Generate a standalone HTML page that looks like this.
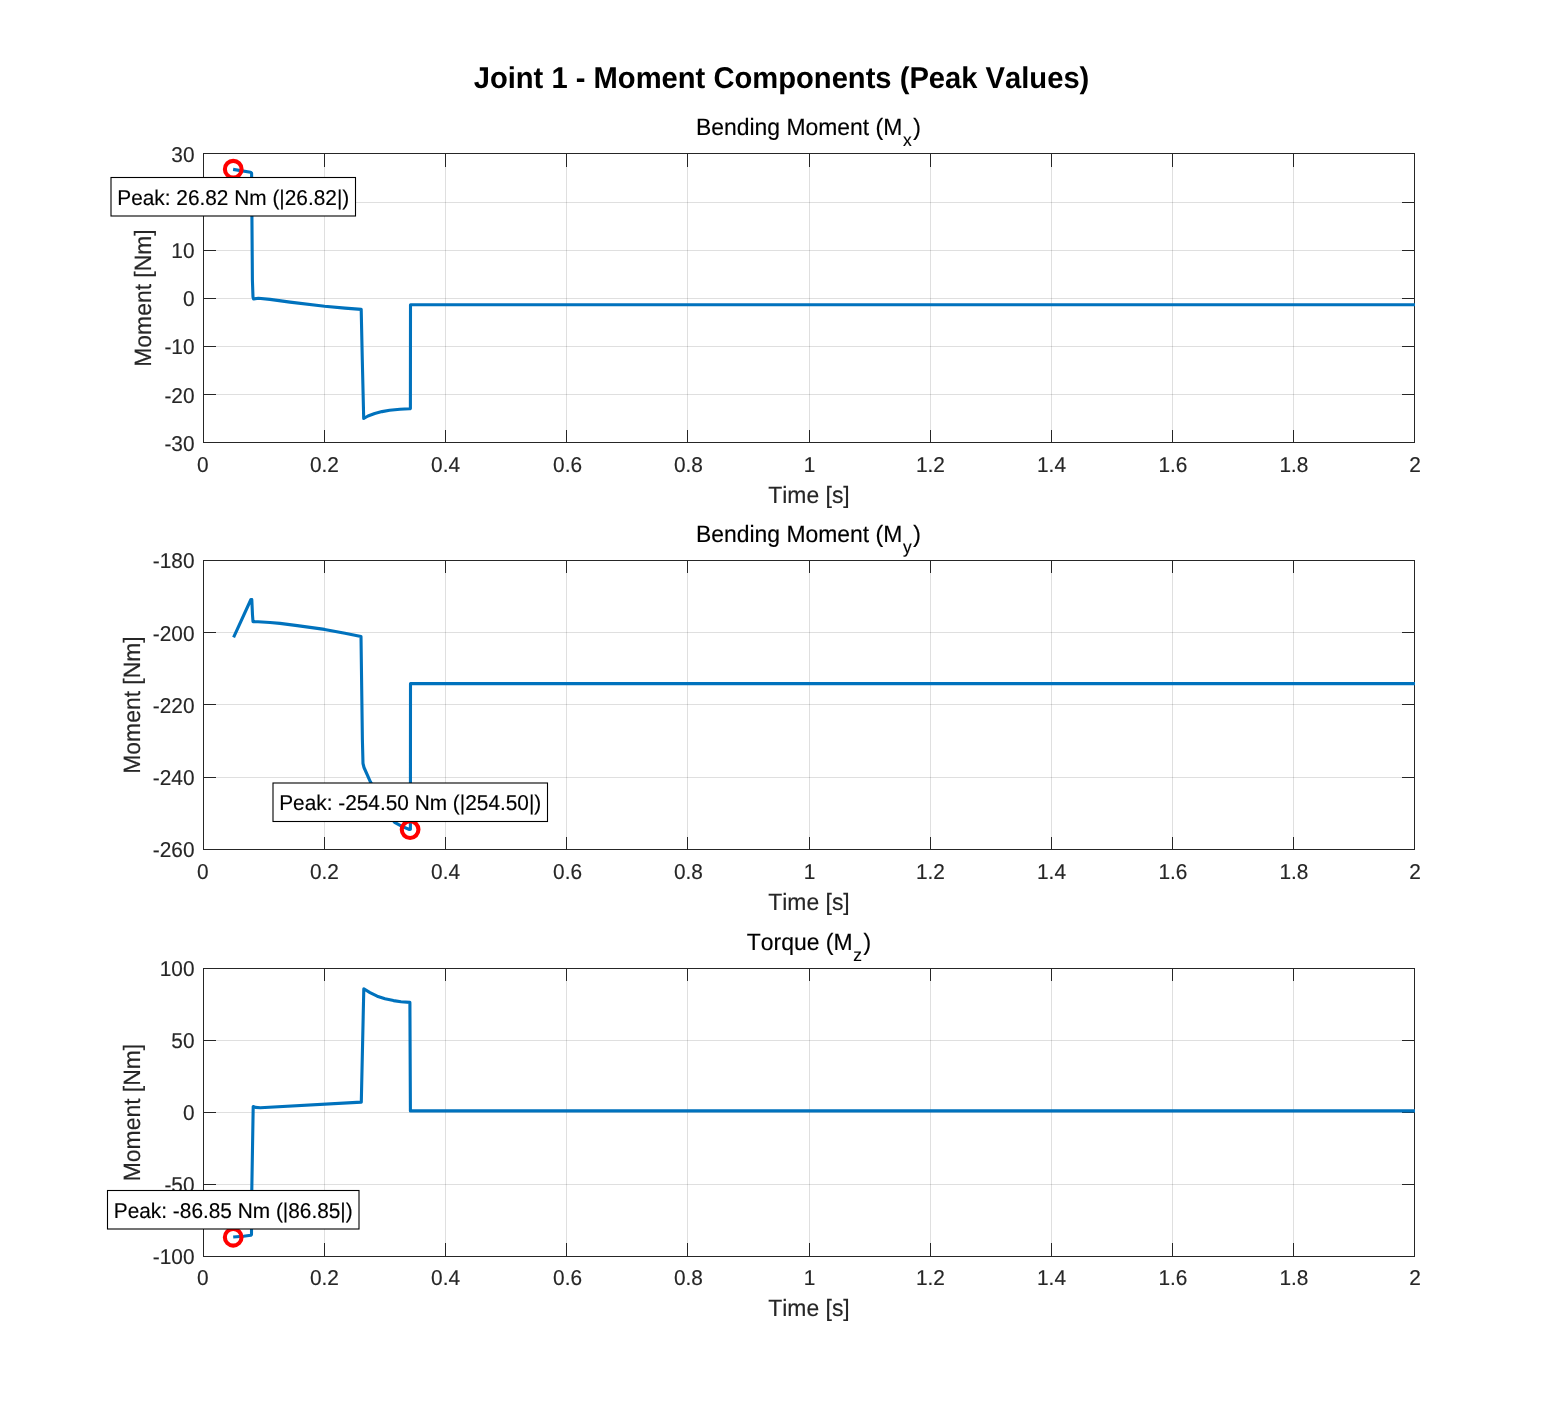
<!DOCTYPE html>
<html lang="en"><head><meta charset="utf-8">
<title>Joint 1 - Moment Components (Peak Values)</title>
<style>
html,body{margin:0;padding:0;background:#fff;}
body{width:1563px;height:1406px;overflow:hidden;}
svg{display:block;}
text{font-family:"Liberation Sans", sans-serif;white-space:pre;font-kerning:none;font-variant-ligatures:none;text-rendering:geometricPrecision;}
.grid{fill:none;stroke:#262626;stroke-opacity:0.15;stroke-width:1;shape-rendering:crispEdges;}
.box{fill:none;stroke:#262626;stroke-width:1;shape-rendering:crispEdges;}
.tick{fill:none;stroke:#262626;stroke-width:1;shape-rendering:crispEdges;}
.curve{fill:none;stroke:#0072bd;stroke-width:3.1;stroke-linejoin:round;stroke-linecap:butt;}
.peak{fill:none;stroke:#ff0000;stroke-width:4.1;}
.tl{font-size:20.83px;fill:#262626;stroke:#262626;stroke-width:0.15;}
.al{font-size:22.92px;fill:#262626;stroke:#262626;stroke-width:0.15;}
.tt{font-size:22.92px;fill:#000;stroke:#000;stroke-width:0.15;}
.ts{font-size:17.4px;fill:#000;stroke:#000;stroke-width:0.15;}
.st{font-size:29.17px;font-weight:bold;fill:#000;}
.ab{fill:#fff;stroke:#000;stroke-width:1.1;}
.at{font-size:20.83px;fill:#000;stroke:#000;stroke-width:0.15;}
</style></head><body>
<svg width="1563" height="1406" viewBox="0 0 1563 1406" role="img" aria-label="Joint 1 - Moment Components (Peak Values)">
<rect x="0" y="0" width="1563" height="1406" fill="#ffffff"/>
<text class="st" transform="translate(781.5 88) scale(1 1.03)" text-anchor="middle">Joint 1 - Moment Components (Peak Values)</text>
<g id="axes1">
<path class="grid" d="M324.5 153.5V442.5M445.5 153.5V442.5M566.5 153.5V442.5M687.5 153.5V442.5M809.5 153.5V442.5M930.5 153.5V442.5M1051.5 153.5V442.5M1172.5 153.5V442.5M1293.5 153.5V442.5"/>
<path class="grid" d="M203.5 202.5H1414.5M203.5 250.5H1414.5M203.5 298.5H1414.5M203.5 346.5H1414.5M203.5 394.5H1414.5"/>
<path class="tick" d="M203.5 442.5v-12.1M203.5 153.5v13.1M324.5 442.5v-12.1M324.5 153.5v13.1M445.5 442.5v-12.1M445.5 153.5v13.1M566.5 442.5v-12.1M566.5 153.5v13.1M687.5 442.5v-12.1M687.5 153.5v13.1M809.5 442.5v-12.1M809.5 153.5v13.1M930.5 442.5v-12.1M930.5 153.5v13.1M1051.5 442.5v-12.1M1051.5 153.5v13.1M1172.5 442.5v-12.1M1172.5 153.5v13.1M1293.5 442.5v-12.1M1293.5 153.5v13.1M1414.5 442.5v-12.1M1414.5 153.5v13.1M203.5 153.5h12.1M1414.5 153.5h-12.1M203.5 202.5h12.1M1414.5 202.5h-12.1M203.5 250.5h12.1M1414.5 250.5h-12.1M203.5 298.5h12.1M1414.5 298.5h-12.1M203.5 346.5h12.1M1414.5 346.5h-12.1M203.5 394.5h12.1M1414.5 394.5h-12.1M203.5 442.5h12.1M1414.5 442.5h-12.1"/>
<rect class="box" x="203.5" y="153.5" width="1211" height="289"/>
<path class="curve" d="M233.1 169.4L250.5 172.2L251.6 173.2L252.4 280L253 297L253.6 299L258.4 298.2L270 299.4L290 302.1L324.6 306.2L345 308.1L361.2 309.4L362.3 360L363.7 418.5L368 416L374.7 413.5L382 411.6L389.6 410.3L400 409.3L409.3 408.8L410.4 408.6L410.5 304.8L1415 304.8"/>
<circle class="peak" cx="233.25" cy="169.2" r="8.35"/>
<text class="tl" transform="translate(202.9 472) scale(1 1.03)" text-anchor="middle">0</text>
<text class="tl" transform="translate(324.4 472) scale(1 1.03)" text-anchor="middle">0.2</text>
<text class="tl" transform="translate(445.6 472) scale(1 1.03)" text-anchor="middle">0.4</text>
<text class="tl" transform="translate(567.6 472) scale(1 1.03)" text-anchor="middle">0.6</text>
<text class="tl" transform="translate(688.4 472) scale(1 1.03)" text-anchor="middle">0.8</text>
<text class="tl" transform="translate(809.5 472) scale(1 1.03)" text-anchor="middle">1</text>
<text class="tl" transform="translate(930.4 472) scale(1 1.03)" text-anchor="middle">1.2</text>
<text class="tl" transform="translate(1051.5 472) scale(1 1.03)" text-anchor="middle">1.4</text>
<text class="tl" transform="translate(1172.9 472) scale(1 1.03)" text-anchor="middle">1.6</text>
<text class="tl" transform="translate(1293.9 472) scale(1 1.03)" text-anchor="middle">1.8</text>
<text class="tl" transform="translate(1415 472) scale(1 1.03)" text-anchor="middle">2</text>
<text class="tl" transform="translate(194.5 162) scale(1 1.03)" text-anchor="end">30</text>
<text class="tl" transform="translate(194.5 210) scale(1 1.03)" text-anchor="end">20</text>
<text class="tl" transform="translate(194.5 258) scale(1 1.03)" text-anchor="end">10</text>
<text class="tl" transform="translate(194.5 306) scale(1 1.03)" text-anchor="end">0</text>
<text class="tl" transform="translate(194.5 354) scale(1 1.03)" text-anchor="end">-10</text>
<text class="tl" transform="translate(194.5 403) scale(1 1.03)" text-anchor="end">-20</text>
<text class="tl" transform="translate(194.5 451) scale(1 1.03)" text-anchor="end">-30</text>
<text class="al" transform="translate(809 503) scale(1 1.03)" text-anchor="middle">Time [s]</text>
<text class="al" transform="translate(151 298) rotate(-90) scale(1 1.03)" text-anchor="middle">Moment [Nm]</text>
<text class="tt" transform="translate(696 135) scale(1 1.03)">Bending Moment (M<tspan class="ts" dx="0.7" dy="10.5">x</tspan><tspan dx="1.6" dy="-10.5">)</tspan></text>
<rect class="ab" x="111" y="177.5" width="244.5" height="38.5"/>
<text class="at" transform="translate(233.25 205) scale(1 1.03)" text-anchor="middle">Peak: 26.82 Nm (|26.82|)</text>
</g>
<g id="axes2">
<path class="grid" d="M324.5 560.5V849.5M445.5 560.5V849.5M566.5 560.5V849.5M687.5 560.5V849.5M809.5 560.5V849.5M930.5 560.5V849.5M1051.5 560.5V849.5M1172.5 560.5V849.5M1293.5 560.5V849.5"/>
<path class="grid" d="M203.5 632.5H1414.5M203.5 704.5H1414.5M203.5 777.5H1414.5"/>
<path class="tick" d="M203.5 849.5v-12.1M203.5 560.5v12.1M324.5 849.5v-12.1M324.5 560.5v12.1M445.5 849.5v-12.1M445.5 560.5v12.1M566.5 849.5v-12.1M566.5 560.5v12.1M687.5 849.5v-12.1M687.5 560.5v12.1M809.5 849.5v-12.1M809.5 560.5v12.1M930.5 849.5v-12.1M930.5 560.5v12.1M1051.5 849.5v-12.1M1051.5 560.5v12.1M1172.5 849.5v-12.1M1172.5 560.5v12.1M1293.5 849.5v-12.1M1293.5 560.5v12.1M1414.5 849.5v-12.1M1414.5 560.5v12.1M203.5 560.5h12.1M1414.5 560.5h-12.1M203.5 632.5h12.1M1414.5 632.5h-12.1M203.5 704.5h12.1M1414.5 704.5h-12.1M203.5 777.5h12.1M1414.5 777.5h-12.1M203.5 849.5h12.1M1414.5 849.5h-12.1"/>
<rect class="box" x="203.5" y="560.5" width="1211" height="289"/>
<path class="curve" d="M233.6 637.3L250.9 599.5L251.8 599.5L252.5 615L253 621.6L258 621.7L270 622.5L280 623.4L297.3 625.6L324.6 629.4L345 633.2L361 636.4L362.4 740L363 763.5L364 767.5L370.4 781.8L378 797L386 811L394.6 822.3L402 826.4L409.4 829.5L410.4 829.2L410.5 683.6L1415 683.6"/>
<circle class="peak" cx="410.1" cy="829.6" r="8.35"/>
<text class="tl" transform="translate(202.9 879) scale(1 1.03)" text-anchor="middle">0</text>
<text class="tl" transform="translate(324.4 879) scale(1 1.03)" text-anchor="middle">0.2</text>
<text class="tl" transform="translate(445.6 879) scale(1 1.03)" text-anchor="middle">0.4</text>
<text class="tl" transform="translate(567.6 879) scale(1 1.03)" text-anchor="middle">0.6</text>
<text class="tl" transform="translate(688.4 879) scale(1 1.03)" text-anchor="middle">0.8</text>
<text class="tl" transform="translate(809.5 879) scale(1 1.03)" text-anchor="middle">1</text>
<text class="tl" transform="translate(930.4 879) scale(1 1.03)" text-anchor="middle">1.2</text>
<text class="tl" transform="translate(1051.5 879) scale(1 1.03)" text-anchor="middle">1.4</text>
<text class="tl" transform="translate(1172.9 879) scale(1 1.03)" text-anchor="middle">1.6</text>
<text class="tl" transform="translate(1293.9 879) scale(1 1.03)" text-anchor="middle">1.8</text>
<text class="tl" transform="translate(1415 879) scale(1 1.03)" text-anchor="middle">2</text>
<text class="tl" transform="translate(194.5 568) scale(1 1.03)" text-anchor="end">-180</text>
<text class="tl" transform="translate(194.5 641) scale(1 1.03)" text-anchor="end">-200</text>
<text class="tl" transform="translate(194.5 713) scale(1 1.03)" text-anchor="end">-220</text>
<text class="tl" transform="translate(194.5 785) scale(1 1.03)" text-anchor="end">-240</text>
<text class="tl" transform="translate(194.5 857) scale(1 1.03)" text-anchor="end">-260</text>
<text class="al" transform="translate(809 910) scale(1 1.03)" text-anchor="middle">Time [s]</text>
<text class="al" transform="translate(140.15 705) rotate(-90) scale(1 1.03)" text-anchor="middle">Moment [Nm]</text>
<text class="tt" transform="translate(696 542) scale(1 1.03)">Bending Moment (M<tspan class="ts" dx="0.7" dy="10.5">y</tspan><tspan dx="1.6" dy="-10.5">)</tspan></text>
<rect class="ab" x="273" y="783" width="274.5" height="38.5"/>
<text class="at" transform="translate(410.25 810) scale(1 1.03)" text-anchor="middle">Peak: -254.50 Nm (|254.50|)</text>
</g>
<g id="axes3">
<path class="grid" d="M324.5 968.5V1256.5M445.5 968.5V1256.5M566.5 968.5V1256.5M687.5 968.5V1256.5M809.5 968.5V1256.5M930.5 968.5V1256.5M1051.5 968.5V1256.5M1172.5 968.5V1256.5M1293.5 968.5V1256.5"/>
<path class="grid" d="M203.5 1040.5H1414.5M203.5 1112.5H1414.5M203.5 1184.5H1414.5"/>
<path class="tick" d="M203.5 1256.5v-13.1M203.5 968.5v12.1M324.5 1256.5v-13.1M324.5 968.5v12.1M445.5 1256.5v-13.1M445.5 968.5v12.1M566.5 1256.5v-13.1M566.5 968.5v12.1M687.5 1256.5v-13.1M687.5 968.5v12.1M809.5 1256.5v-13.1M809.5 968.5v12.1M930.5 1256.5v-13.1M930.5 968.5v12.1M1051.5 1256.5v-13.1M1051.5 968.5v12.1M1172.5 1256.5v-13.1M1172.5 968.5v12.1M1293.5 1256.5v-13.1M1293.5 968.5v12.1M1414.5 1256.5v-13.1M1414.5 968.5v12.1M203.5 968.5h12.1M1414.5 968.5h-12.1M203.5 1040.5h12.1M1414.5 1040.5h-12.1M203.5 1112.5h12.1M1414.5 1112.5h-12.1M203.5 1184.5h12.1M1414.5 1184.5h-12.1M203.5 1256.5h12.1M1414.5 1256.5h-12.1"/>
<rect class="box" x="203.5" y="968.5" width="1211" height="288"/>
<path class="curve" d="M233.2 1237L243.5 1236.2L250.8 1235.2L251.5 1234.6L251.8 1190L253.2 1106.5L255.5 1107.4L260.3 1107.7L361.3 1102.1L363.8 988.8L370 992.6L377.2 996.2L385 998.8L393.5 1000.6L401 1001.7L409.9 1002.4L410.4 1110.9L1415 1110.9"/>
<circle class="peak" cx="233.2" cy="1237.25" r="8.35"/>
<text class="tl" transform="translate(202.9 1285) scale(1 1.03)" text-anchor="middle">0</text>
<text class="tl" transform="translate(324.4 1285) scale(1 1.03)" text-anchor="middle">0.2</text>
<text class="tl" transform="translate(445.6 1285) scale(1 1.03)" text-anchor="middle">0.4</text>
<text class="tl" transform="translate(567.6 1285) scale(1 1.03)" text-anchor="middle">0.6</text>
<text class="tl" transform="translate(688.4 1285) scale(1 1.03)" text-anchor="middle">0.8</text>
<text class="tl" transform="translate(809.5 1285) scale(1 1.03)" text-anchor="middle">1</text>
<text class="tl" transform="translate(930.4 1285) scale(1 1.03)" text-anchor="middle">1.2</text>
<text class="tl" transform="translate(1051.5 1285) scale(1 1.03)" text-anchor="middle">1.4</text>
<text class="tl" transform="translate(1172.9 1285) scale(1 1.03)" text-anchor="middle">1.6</text>
<text class="tl" transform="translate(1293.9 1285) scale(1 1.03)" text-anchor="middle">1.8</text>
<text class="tl" transform="translate(1415 1285) scale(1 1.03)" text-anchor="middle">2</text>
<text class="tl" transform="translate(194.5 976) scale(1 1.03)" text-anchor="end">100</text>
<text class="tl" transform="translate(194.5 1048) scale(1 1.03)" text-anchor="end">50</text>
<text class="tl" transform="translate(194.5 1120) scale(1 1.03)" text-anchor="end">0</text>
<text class="tl" transform="translate(194.5 1192) scale(1 1.03)" text-anchor="end">-50</text>
<text class="tl" transform="translate(194.5 1264) scale(1 1.03)" text-anchor="end">-100</text>
<text class="al" transform="translate(809 1316) scale(1 1.03)" text-anchor="middle">Time [s]</text>
<text class="al" transform="translate(140.15 1112.5) rotate(-90) scale(1 1.03)" text-anchor="middle">Moment [Nm]</text>
<text class="tt" transform="translate(746.85 950) scale(1 1.03)">Torque (M<tspan class="ts" dx="0.7" dy="10.5">z</tspan><tspan dx="1.6" dy="-10.5">)</tspan></text>
<rect class="ab" x="107.5" y="1190.5" width="251.5" height="38.5"/>
<text class="at" transform="translate(233.25 1218) scale(1 1.03)" text-anchor="middle">Peak: -86.85 Nm (|86.85|)</text>
</g>
</svg>
</body></html>
